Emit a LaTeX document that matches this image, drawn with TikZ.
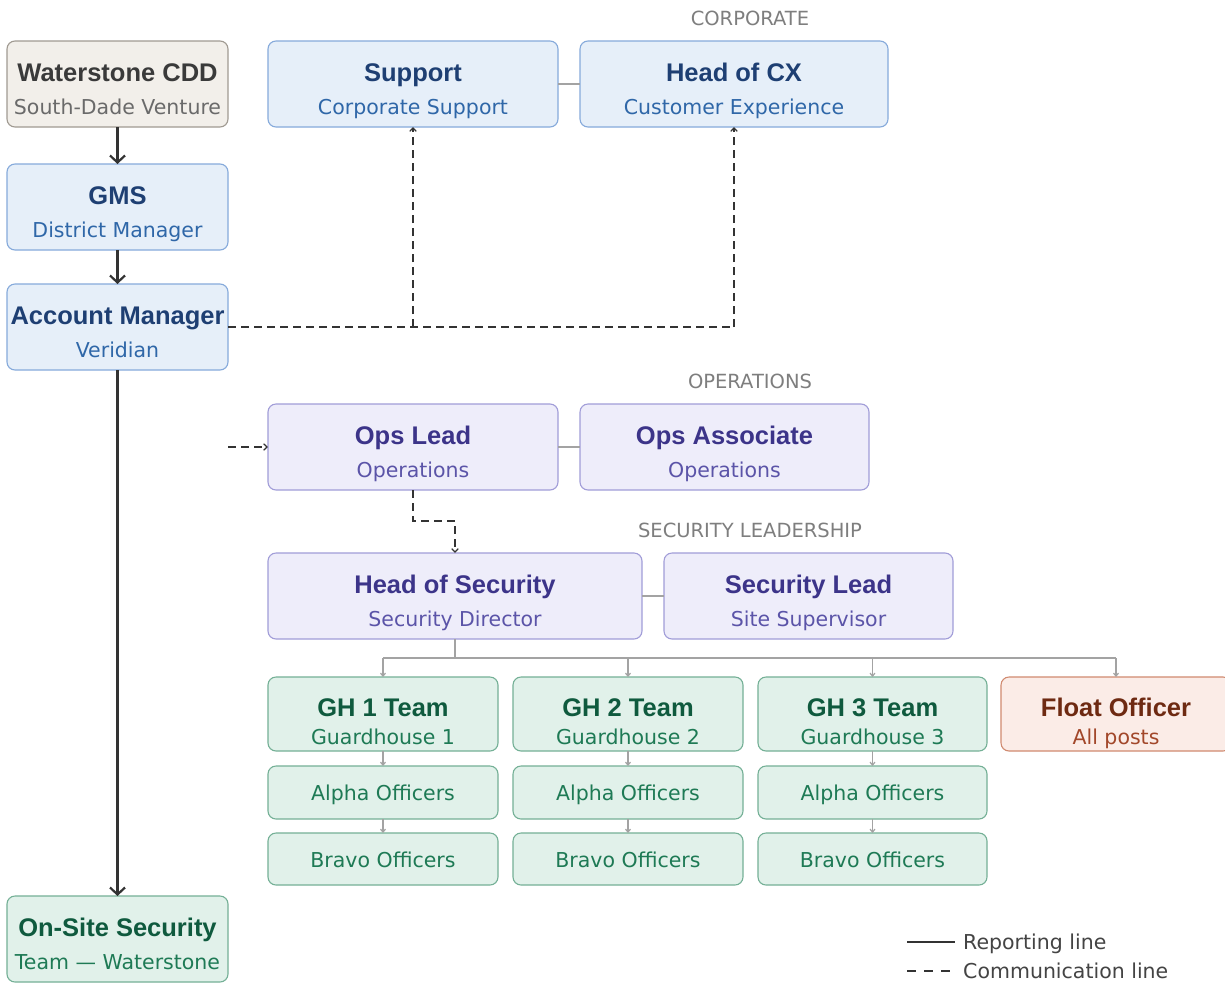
\documentclass[tikz,border=0pt]{standalone}
\usepackage{fontspec}
\setmainfont{Liberation Sans}
\newfontfamily\subfont{DejaVu Sans}
\usetikzlibrary{arrows.meta}
\definecolor{wcfill}{HTML}{F2EFEA}\definecolor{wcdraw}{HTML}{A09A92}
\definecolor{wctitle}{HTML}{3A3A3A}\definecolor{wcsub}{HTML}{6A6A6A}
\definecolor{bfill}{HTML}{E6EFF9}\definecolor{bdraw}{HTML}{86AADB}
\definecolor{btitle}{HTML}{1E3F73}\definecolor{bsub}{HTML}{2F67A8}
\definecolor{pfill}{HTML}{EEEDFA}\definecolor{pdraw}{HTML}{A19DD8}
\definecolor{ptitle}{HTML}{3C3489}\definecolor{psub}{HTML}{5B54A8}
\definecolor{gfill}{HTML}{E1F1EA}\definecolor{gdraw}{HTML}{74B096}
\definecolor{gtitle}{HTML}{0F5A3E}\definecolor{gsub}{HTML}{1E7A55}
\definecolor{ffill}{HTML}{FBECE7}\definecolor{fdraw}{HTML}{D08A70}
\definecolor{ftitle}{HTML}{6E2A12}\definecolor{fsub}{HTML}{A2472A}
\definecolor{linedark}{HTML}{333333}\definecolor{linegray}{HTML}{A3A3A3}
\definecolor{seclabel}{HTML}{7E7E7E}\definecolor{legtext}{HTML}{444444}
\tikzset{
  orgbox/.style={rounded corners=8pt, line width=1.1pt, inner sep=0pt, outer sep=0pt, anchor=north west},
  wcbox/.style={orgbox, fill=wcfill, draw=wcdraw},
  bbox/.style={orgbox, fill=bfill, draw=bdraw},
  pbox/.style={orgbox, fill=pfill, draw=pdraw},
  gbox/.style={orgbox, fill=gfill, draw=gdraw},
  fbox/.style={orgbox, fill=ffill, draw=fdraw},
  ttl/.style={inner sep=0pt, anchor=base, font=\fontsize{25.5}{28}\selectfont\bfseries},
  sbt/.style={inner sep=0pt, anchor=base, font=\subfont\fontsize{20.5}{24}\selectfont},
  rep/.style={draw=linedark, line width=2.3pt, -{Straight Barb[length=7pt,width=15pt,line width=2.2pt]}},
  comm/.style={draw=linedark, line width=1.3pt, dash pattern=on 8pt off 5pt},
  commarrow/.style={comm, -{Straight Barb[length=3.5pt,width=6.5pt,line width=1.2pt]}},
  peer/.style={draw=linegray, line width=1.4pt},
  tree/.style={draw=linegray, line width=1.3pt},
  treearrow/.style={tree, -{Straight Barb[length=3pt,width=5pt,line width=1.2pt]}},
  sec/.style={inner sep=0pt, anchor=base, text=seclabel, font=\subfont\fontsize{19.5}{22}\selectfont},
  leg/.style={inner sep=0pt, anchor=base west, text=legtext, font=\subfont\fontsize{20.5}{24}\selectfont},
}
\begin{document}
\begin{tikzpicture}[x=1pt,y=-1pt]
\clip (0,0) rectangle (1225,983);
\fill[white] (0,0) rectangle (1225,983);
% section labels
\node[sec] (seccorp) at (750,25) {CORPORATE};
\node[sec] (secops) at (750,388) {OPERATIONS};
\node[sec] (secsec) at (750,537) {SECURITY LEADERSHIP};
% left column
\node[wcbox, minimum width=221pt, minimum height=86pt] (wc) at (7,41) {};
\node[ttl, text=wctitle] (wct) at (117.5,81) {Waterstone CDD};
\node[sbt, text=wcsub] (wcs) at (117.5,114) {South-Dade Venture};
\node[bbox, minimum width=221pt, minimum height=86pt] (gms) at (7,164) {};
\node[ttl, text=btitle] (gmst) at (117.5,204) {GMS};
\node[sbt, text=bsub] (gmss) at (117.5,237) {District Manager};
\node[bbox, minimum width=221pt, minimum height=86pt] (am) at (7,284) {};
\node[ttl, text=btitle] (amt) at (117.5,324) {Account Manager};
\node[sbt, text=bsub] (ams) at (117.5,357) {Veridian};
\node[gbox, minimum width=221pt, minimum height=86pt] (os) at (7,896) {};
\node[ttl, text=gtitle] (ost) at (117.5,936) {On-Site Security};
\node[sbt, text=gsub] (oss) at (117.5,969) {Team — Waterstone};
% corporate
\node[bbox, minimum width=290pt, minimum height=86pt] (sup) at (268,41) {};
\node[ttl, text=btitle] (supt) at (413,81) {Support};
\node[sbt, text=bsub] (sups) at (413,114) {Corporate Support};
\node[bbox, minimum width=308pt, minimum height=86pt] (cx) at (580,41) {};
\node[ttl, text=btitle] (cxt) at (734,81) {Head of CX};
\node[sbt, text=bsub] (cxs) at (734,114) {Customer Experience};
% operations
\node[pbox, minimum width=290pt, minimum height=86pt] (ops) at (268,404) {};
\node[ttl, text=ptitle] (opst) at (413,444) {Ops Lead};
\node[sbt, text=psub] (opss) at (413,477) {Operations};
\node[pbox, minimum width=289pt, minimum height=86pt] (opa) at (580,404) {};
\node[ttl, text=ptitle] (opat) at (724.5,444) {Ops Associate};
\node[sbt, text=psub] (opas) at (724.5,477) {Operations};
% security leadership
\node[pbox, minimum width=374pt, minimum height=86pt] (hos) at (268,553) {};
\node[ttl, text=ptitle] (host) at (455,593) {Head of Security};
\node[sbt, text=psub] (hoss) at (455,626) {Security Director};
\node[pbox, minimum width=289pt, minimum height=86pt] (sl) at (664,553) {};
\node[ttl, text=ptitle] (slt) at (808.5,593) {Security Lead};
\node[sbt, text=psub] (sls) at (808.5,626) {Site Supervisor};
% teams
\node[gbox, minimum width=230pt, minimum height=74pt] (gh1) at (268,677) {};
\node[ttl, text=gtitle] (gh1t) at (383,716) {GH 1 Team};
\node[sbt, text=gsub] (gh1s) at (383,744) {Guardhouse 1};
\node[gbox, minimum width=230pt, minimum height=74pt] (gh2) at (513,677) {};
\node[ttl, text=gtitle] (gh2t) at (628,716) {GH 2 Team};
\node[sbt, text=gsub] (gh2s) at (628,744) {Guardhouse 2};
\node[gbox, minimum width=229pt, minimum height=74pt] (gh3) at (758,677) {};
\node[ttl, text=gtitle] (gh3t) at (872.5,716) {GH 3 Team};
\node[sbt, text=gsub] (gh3s) at (872.5,744) {Guardhouse 3};
\node[fbox, minimum width=230pt, minimum height=74pt] (fl) at (1001,677) {};
\node[ttl, text=ftitle] (flt) at (1116,716) {Float Officer};
\node[sbt, text=fsub] (fls) at (1116,744) {All posts};
% officers
\node[gbox, minimum width=230pt, minimum height=53pt] (a1) at (268,766) {};
\node[sbt, text=gsub] (a1t) at (383,800) {Alpha Officers};
\node[gbox, minimum width=230pt, minimum height=53pt] (a2) at (513,766) {};
\node[sbt, text=gsub] (a2t) at (628,800) {Alpha Officers};
\node[gbox, minimum width=229pt, minimum height=53pt] (a3) at (758,766) {};
\node[sbt, text=gsub] (a3t) at (872.5,800) {Alpha Officers};
\node[gbox, minimum width=230pt, minimum height=52pt] (b1) at (268,833) {};
\node[sbt, text=gsub] (b1t) at (383,867) {Bravo Officers};
\node[gbox, minimum width=230pt, minimum height=52pt] (b2) at (513,833) {};
\node[sbt, text=gsub] (b2t) at (628,867) {Bravo Officers};
\node[gbox, minimum width=229pt, minimum height=52pt] (b3) at (758,833) {};
\node[sbt, text=gsub] (b3t) at (872.5,867) {Bravo Officers};
% reporting lines
\draw[rep] (wc.south) -- (gms.north);
\draw[rep] (gms.south) -- (am.north);
\draw[rep] (am.south) -- (os.north);
% peer lines
\draw[peer] (sup.east) -- (cx.west);
\draw[peer] (ops.east) -- (opa.west);
\draw[peer] (hos.east) -- (sl.west);
% communication lines
\coordinate (cj) at (cx.south |- am.east);
\coordinate (sj) at (sup.south |- am.east);
\draw[comm] (am.east) -- (cj);
\draw[commarrow] (cj) -- (cx.south);
\draw[commarrow] (sj) -- (sup.south);
\coordinate (opin) at (228,447);
\draw[commarrow] (opin) -- (ops.west);
\draw[commarrow] (ops.south) -- ++(0,31) -| (hos.north);
% tree
\coordinate (bus) at (0,658);
\draw[tree] (hos.south) -- (hos.south |- bus);
\draw[tree] (gh1.north |- bus) -- (fl.north |- bus);
\draw[treearrow] (gh1.north |- bus) -- (gh1.north);
\draw[treearrow] (gh2.north |- bus) -- (gh2.north);
\draw[treearrow] (gh3.north |- bus) -- (gh3.north);
\draw[treearrow] (fl.north |- bus) -- (fl.north);
\draw[treearrow] (gh1.south) -- (a1.north);
\draw[treearrow] (gh2.south) -- (a2.north);
\draw[treearrow] (gh3.south) -- (a3.north);
\draw[treearrow] (a1.south) -- (b1.north);
\draw[treearrow] (a2.south) -- (b2.north);
\draw[treearrow] (a3.south) -- (b3.north);
% legend
\coordinate (lga) at (907,942); \coordinate (lgb) at (955,942);
\draw[draw=linedark, line width=2.5pt] (lga) -- (lgb);
\node[leg] (lgr) at (963,949) {Reporting line};
\coordinate (lgc) at (907,971); \coordinate (lgd) at (950,971);
\draw[draw=linedark, line width=1.3pt, dash pattern=on 9pt off 8pt] (lgc) -- (lgd);
\node[leg] (lgm) at (963,978) {Communication line};
\end{tikzpicture}
\end{document}
